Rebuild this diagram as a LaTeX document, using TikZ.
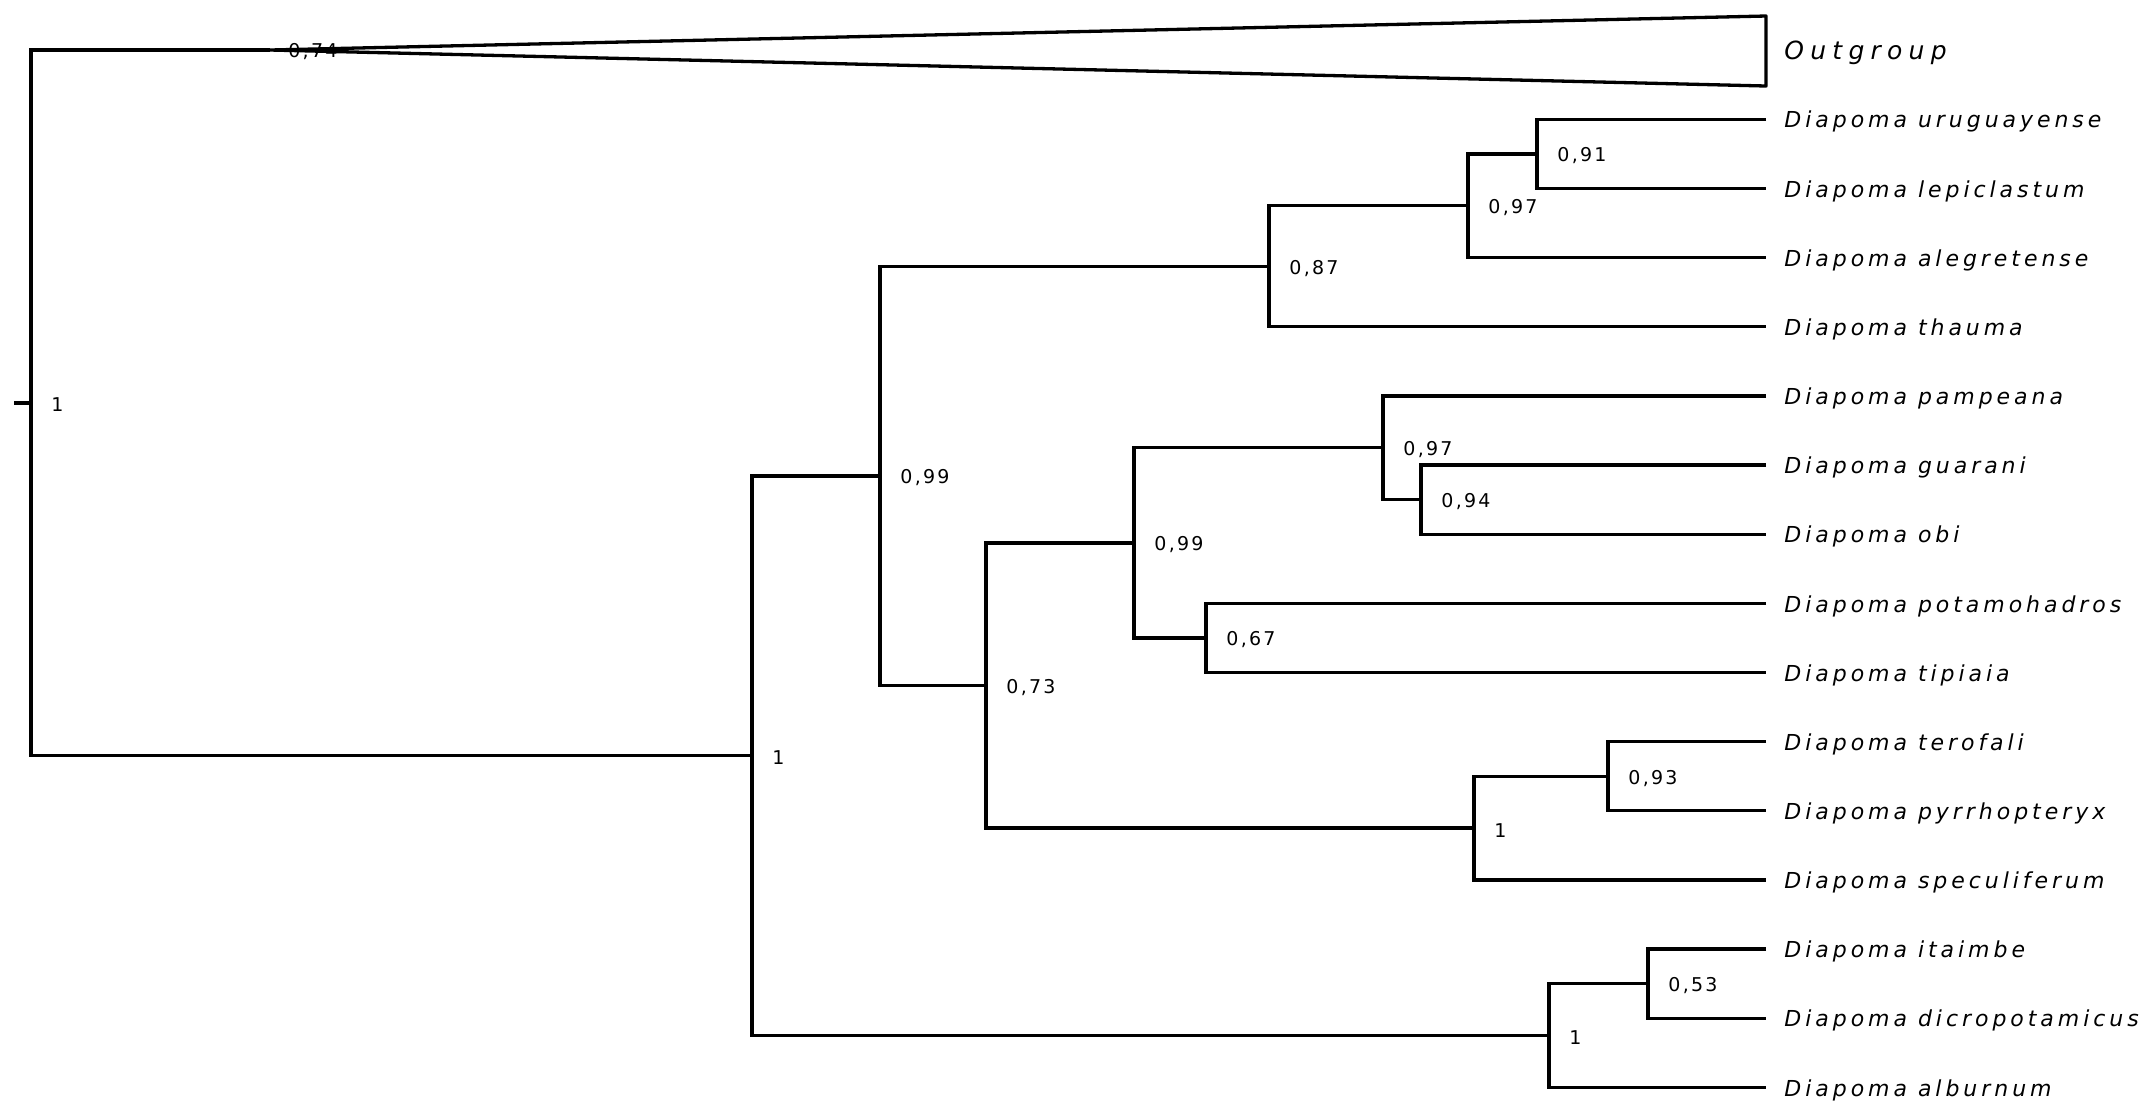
\documentclass[tikz,border=0pt]{standalone}
\usepackage{fontspec}
\setmainfont{DejaVu Sans}
\newfontfamily\taxfont[LetterSpace=25]{DejaVu Sans}
\newfontfamily\namefont[LetterSpace=18]{DejaVu Sans}
\newfontfamily\suppfont[LetterSpace=12]{DejaVu Sans}
\usepackage{tikz}
\usetikzlibrary{positioning}

\tikzset{
  branch/.style={line width=1.65pt, line join=miter},
  taxon/.style={inner sep=0pt, yshift=-1.3pt, font=\namefont\itshape\fontsize{11}{13}\selectfont},
  supp/.style={inner sep=0pt, yshift=-1pt, font=\suppfont\fontsize{9.5}{11}\selectfont},
}

\begin{document}
\begin{tikzpicture}[x=0.5pt, y=-0.5pt]
        \useasboundingbox (0,0) rectangle (2140,1116);
        % tips
        \coordinate (t1) at (1766,119.3);
        \coordinate (t2) at (1766,188.5);
        \coordinate (t3) at (1766,257.6);
        \coordinate (t4) at (1766,326.8);
        \coordinate (t5) at (1766,395.9);
        \coordinate (t6) at (1766,465.1);
        \coordinate (t7) at (1766,534.2);
        \coordinate (t8) at (1766,603.4);
        \coordinate (t9) at (1766,672.5);
        \coordinate (t10) at (1766,741.7);
        \coordinate (t11) at (1766,810.8);
        \coordinate (t12) at (1766,880.0);
        \coordinate (t13) at (1766,949.1);
        \coordinate (t14) at (1766,1018.3);
        \coordinate (t15) at (1766,1087.4);
        % inner nodes
        \coordinate (stub) at (14,402.85);
        \coordinate (root) at (31,402.85);
        \coordinate (og) at (270,50);
        \coordinate (ogtop) at (1766,16);
        \coordinate (ogbot) at (1766,86);
        \coordinate (ingr) at (752,755.7);
        \coordinate (nB) at (880,475.9);
        \coordinate (nC) at (1549,1035.55);
        \coordinate (nD) at (1269,266.3);
        \coordinate (nE) at (986,685.5);
        \coordinate (nF) at (1468,205.75);
        \coordinate (nG) at (1537,153.9);
        \coordinate (nH) at (1134,542.9);
        \coordinate (nI) at (1474,828.1);
        \coordinate (nJ) at (1383,447.8);
        \coordinate (nK) at (1206,637.95);
        \coordinate (nL) at (1421,499.65);
        \coordinate (nM) at (1608,776.25);
        \coordinate (nN) at (1648,983.7);
        % branches
        \draw[branch] (stub) -- (root);
        \draw[branch] (og) -| (root) |- (ingr);
        \draw[branch, line join=round] (og) -- (ogtop) -- (ogbot) -- cycle;
        \draw[branch] (nB) -| (ingr) |- (nC);
        \draw[branch] (nD) -| (nB) |- (nE);
        \draw[branch] (nF) -| (nD) |- (t4);
        \draw[branch] (nG) -| (nF) |- (t3);
        \draw[branch] (t1) -| (nG) |- (t2);
        \draw[branch] (nH) -| (nE) |- (nI);
        \draw[branch] (nJ) -| (nH) |- (nK);
        \draw[branch] (t5) -| (nJ) |- (nL);
        \draw[branch] (t6) -| (nL) |- (t7);
        \draw[branch] (t8) -| (nK) |- (t9);
        \draw[branch] (nM) -| (nI) |- (t12);
        \draw[branch] (t10) -| (nM) |- (t11);
        \draw[branch] (nN) -| (nC) |- (t15);
        \draw[branch] (t13) -| (nN) |- (t14);
        % taxa
        \node[taxon, font=\taxfont\itshape\fontsize{12.5}{14}\selectfont, right=9pt of ogtop |- og] (lOut) {Outgroup};
        \node[taxon, right=9pt of t1] (l1) {Diapoma uruguayense};
        \node[taxon, right=9pt of t2] (l2) {Diapoma lepiclastum};
        \node[taxon, right=9pt of t3] (l3) {Diapoma alegretense};
        \node[taxon, right=9pt of t4] (l4) {Diapoma thauma};
        \node[taxon, right=9pt of t5] (l5) {Diapoma pampeana};
        \node[taxon, right=9pt of t6] (l6) {Diapoma guarani};
        \node[taxon, right=9pt of t7] (l7) {Diapoma obi};
        \node[taxon, right=9pt of t8] (l8) {Diapoma potamohadros};
        \node[taxon, right=9pt of t9] (l9) {Diapoma tipiaia};
        \node[taxon, right=9pt of t10] (l10) {Diapoma terofali};
        \node[taxon, right=9pt of t11] (l11) {Diapoma pyrrhopteryx};
        \node[taxon, right=9pt of t12] (l12) {Diapoma speculiferum};
        \node[taxon, right=9pt of t13] (l13) {Diapoma itaimbe};
        \node[taxon, right=9pt of t14] (l14) {Diapoma dicropotamicus};
        \node[taxon, right=9pt of t15] (l15) {Diapoma alburnum};
        % support values
        \node[supp, right=10pt of root] (sRoot) {1};
        \node[supp, right=9pt of og] (sOg) {0,74};
        \node[supp, right=10pt of ingr] (sA) {1};
        \node[supp, right=10pt of nB] (sB) {0,99};
        \node[supp, right=10pt of nC] (sC) {1};
        \node[supp, right=10pt of nD] (sD) {0,87};
        \node[supp, right=10pt of nE] (sE) {0,73};
        \node[supp, right=10pt of nF] (sF) {0,97};
        \node[supp, right=10pt of nG] (sG) {0,91};
        \node[supp, right=10pt of nH] (sH) {0,99};
        \node[supp, right=10pt of nI] (sI) {1};
        \node[supp, right=10pt of nJ] (sJ) {0,97};
        \node[supp, right=10pt of nK] (sK) {0,67};
        \node[supp, right=10pt of nL] (sL) {0,94};
        \node[supp, right=10pt of nM] (sM) {0,93};
        \node[supp, right=10pt of nN] (sN) {0,53};
      \end{tikzpicture}
\end{document}
